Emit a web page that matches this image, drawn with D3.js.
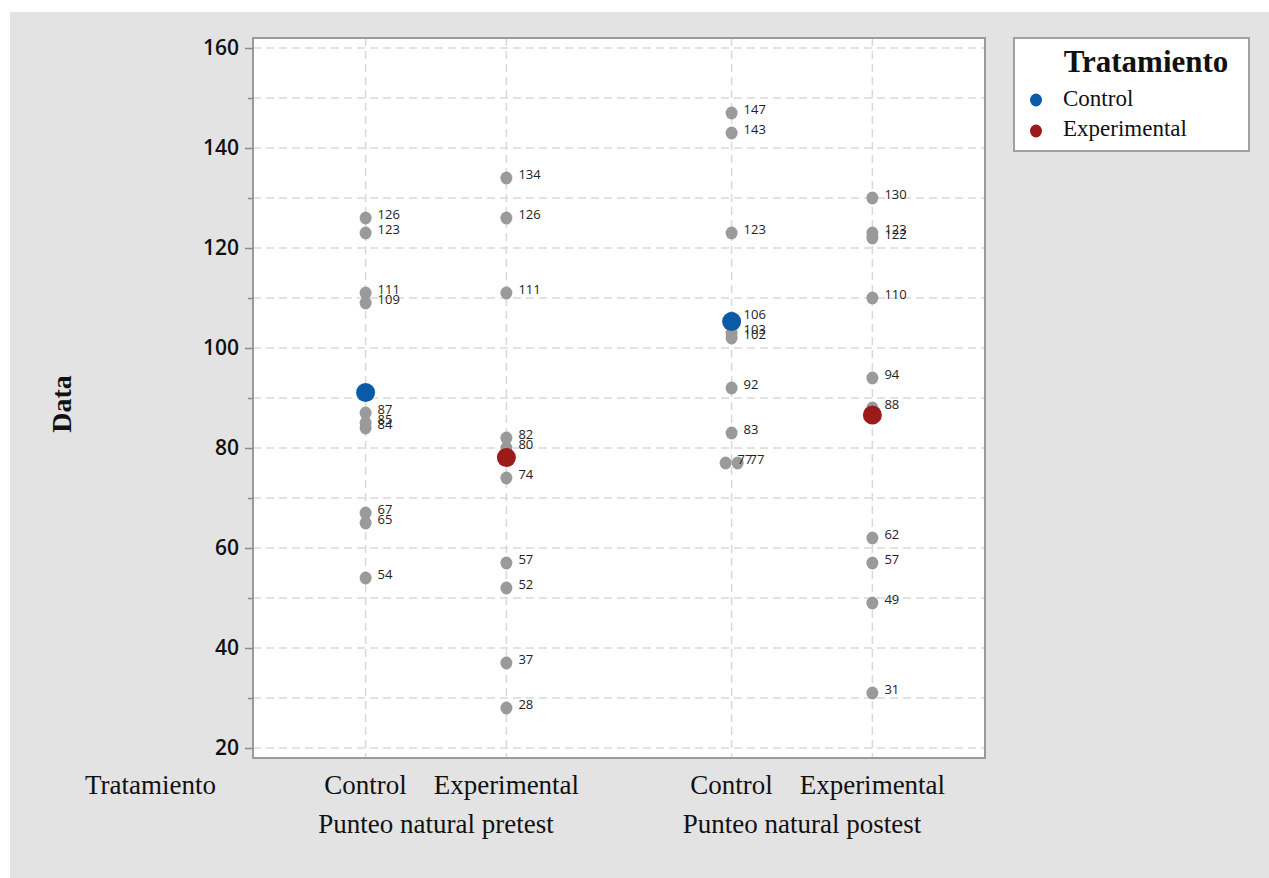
<!DOCTYPE html>
<html>
<head>
<meta charset="utf-8">
<script src="https://cdn.jsdelivr.net/npm/d3@7"></script>
<style>
  html, body { margin: 0; padding: 0; background: #ffffff; }
  svg { display: block; }
</style>
</head>
<body>
<svg id="chart" width="1269" height="878"></svg>
<script>
// ---- data ----
const groups = ["Punteo natural pretest", "Punteo natural postest"];
const treatments = ["Control", "Experimental"];
const controlPretest = [126, 123, 111, 109, 87, 85, 84, 67, 65, 54];
const experimentalPretest = [134, 126, 111, 82, 80, 74, 57, 52, 37, 28];
const controlPostest = [147, 143, 123, 106, 103, 102, 92, 83, 77, 77];
const experimentalPostest = [130, 123, 122, 110, 94, 88, 62, 57, 49, 31];
const yMajorTicks = [20, 40, 60, 80, 100, 120, 140, 160];
const yMinorTicks = [30, 50, 70, 90, 110, 130, 150];
const treatmentColors = ["#0b5aa8", "#9c1a1a"];

const cells = [
  { group: groups[0], treatment: treatments[0], values: controlPretest },
  { group: groups[0], treatment: treatments[1], values: experimentalPretest },
  { group: groups[1], treatment: treatments[0], values: controlPostest },
  { group: groups[1], treatment: treatments[1], values: experimentalPostest }
];

// ---- layout ----
const svg = d3.select("#chart");
const W = 1269, H = 878;
const plot = { left: 253, right: 985, top: 38, bottom: 758 };
const serif = "'Liberation Serif', 'Times New Roman', serif";
const sans = "'Open Sans', 'Noto Sans', 'DejaVu Sans', sans-serif";

svg.append("rect").attr("x", 10).attr("y", 12).attr("width", W - 10).attr("height", H - 12)
  .attr("fill", "#e3e3e3");

svg.append("rect").attr("x", plot.left).attr("y", plot.top)
  .attr("width", plot.right - plot.left).attr("height", plot.bottom - plot.top)
  .attr("fill", "#ffffff");

const y = d3.scaleLinear().domain([18, 162]).range([plot.bottom, plot.top]);
const xOuter = d3.scaleBand().domain(groups).range([plot.left, plot.right]).padding(0);
const xInner = d3.scalePoint().domain(treatments).range([0, xOuter.bandwidth()]).padding(0.8);
const xPos = (g, t) => xOuter(g) + xInner(t);
const color = d3.scaleOrdinal().domain(treatments).range(treatmentColors);

// grid lines
const grid = svg.append("g");
grid.selectAll("line.h").data(yMajorTicks.concat(yMinorTicks)).join("line")
  .attr("x1", plot.left).attr("x2", plot.right)
  .attr("y1", d => y(d)).attr("y2", d => y(d))
  .attr("stroke", "#d9d9d9").attr("stroke-width", 1.5).attr("stroke-dasharray", "8,5");
grid.selectAll("line.v").data(cells).join("line")
  .attr("x1", d => xPos(d.group, d.treatment)).attr("x2", d => xPos(d.group, d.treatment))
  .attr("y1", plot.top).attr("y2", plot.bottom)
  .attr("stroke", "#d9d9d9").attr("stroke-width", 1.5).attr("stroke-dasharray", "8,5");

// frame
svg.append("rect").attr("x", plot.left).attr("y", plot.top)
  .attr("width", plot.right - plot.left).attr("height", plot.bottom - plot.top)
  .attr("fill", "none").attr("stroke", "#9a9a9a").attr("stroke-width", 2);

// y axis
const yAxis = d3.axisLeft(y).tickValues(yMajorTicks).tickSize(8).tickPadding(6).tickFormat(d3.format("d"));
const gy = svg.append("g").attr("transform", `translate(${plot.left},0)`).call(yAxis);
gy.select(".domain").remove();
gy.selectAll(".tick line").attr("stroke", "#8a8a8a").attr("stroke-width", 1.5);
gy.selectAll(".tick text").attr("font-family", sans).attr("font-size", 21).attr("fill", "#111")
  .attr("font-weight", 600);
const yMinorAxis = d3.axisLeft(y).tickValues(yMinorTicks).tickSize(5).tickFormat("");
const gym = svg.append("g").attr("transform", `translate(${plot.left},0)`).call(yMinorAxis);
gym.select(".domain").remove();
gym.selectAll(".tick line").attr("stroke", "#8a8a8a").attr("stroke-width", 1.5);

svg.append("text")
  .attr("transform", `translate(71,${(plot.top + plot.bottom) / 2 + 6}) rotate(-90)`)
  .attr("text-anchor", "middle").attr("font-family", serif).attr("font-size", 28)
  .attr("font-weight", "bold").attr("fill", "#111").text("Data");

// x labels
svg.append("text").attr("x", 85).attr("y", 794).attr("font-family", serif).attr("font-size", 27)
  .attr("fill", "#111").text("Tratamiento");
svg.selectAll("text.tlab").data(cells).join("text")
  .attr("x", d => xPos(d.group, d.treatment)).attr("y", 794)
  .attr("text-anchor", "middle").attr("font-family", serif).attr("font-size", 27)
  .attr("fill", "#111").text(d => d.treatment);
svg.selectAll("text.glab").data(groups).join("text")
  .attr("x", d => xOuter(d) + xOuter.bandwidth() / 2).attr("y", 833)
  .attr("text-anchor", "middle").attr("font-family", serif).attr("font-size", 27)
  .attr("fill", "#111").text(d => d);

// points: dodge ties horizontally
const pts = [];
cells.forEach(c => {
  const counts = d3.rollup(c.values, v => v.length, d => d);
  const seen = new Map();
  c.values.forEach(v => {
    const n = counts.get(v);
    const i = seen.get(v) || 0;
    seen.set(v, i + 1);
    const off = (i - (n - 1) / 2) * 12;
    pts.push({ cx: xPos(c.group, c.treatment) + off, cy: y(v), value: v });
  });
});

const gp = svg.append("g");
gp.selectAll("ellipse").data(pts).join("ellipse")
  .attr("cx", d => d.cx).attr("cy", d => d.cy).attr("rx", 6).attr("ry", 6.5)
  .attr("fill", "#9a9a9a");
gp.selectAll("text").data(pts).join("text")
  .attr("x", d => d.cx + 12).attr("y", d => d.cy - 2)
  .attr("dominant-baseline", "middle")
  .attr("font-family", sans).attr("font-size", 13).attr("fill", "#222")
  .text(d => d.value);

// means
svg.append("g").selectAll("circle").data(cells).join("circle")
  .attr("cx", d => xPos(d.group, d.treatment)).attr("cy", d => y(d3.mean(d.values)))
  .attr("r", 9.5).attr("fill", d => color(d.treatment));

// legend
const lg = svg.append("g");
lg.append("rect").attr("x", 1014).attr("y", 38).attr("width", 235).attr("height", 113)
  .attr("fill", "#ffffff").attr("stroke", "#a0a0a0").attr("stroke-width", 2);
lg.append("text").attr("x", 1146).attr("y", 72).attr("text-anchor", "middle")
  .attr("font-family", serif).attr("font-size", 31).attr("font-weight", "bold")
  .attr("fill", "#111").text("Tratamiento");
treatments.forEach((t, i) => {
  lg.append("ellipse").attr("cx", 1036).attr("cy", 100 + i * 31).attr("rx", 6).attr("ry", 6.5)
    .attr("fill", color(t));
  lg.append("text").attr("x", 1063).attr("y", 106 + i * 30)
    .attr("font-family", serif).attr("font-size", 23).attr("fill", "#111").text(t);
});
</script>
</body>
</html>
